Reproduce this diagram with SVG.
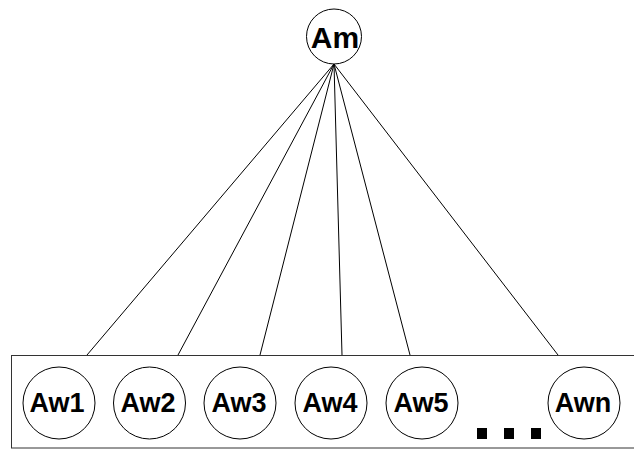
<svg xmlns="http://www.w3.org/2000/svg" width="634" height="450" viewBox="0 0 634 450">
<style>
.n{fill:#fff;stroke:#000;stroke-width:1}
.t{font-family:"Liberation Sans",Arial,sans-serif;font-weight:bold;text-anchor:middle;fill:#000}
.e{stroke:#000;stroke-width:1;fill:none}
</style>
<rect x="11.5" y="355.5" width="640" height="92.5" fill="#fff" stroke="#333" stroke-width="1"/>
<g id="connectors">
<line class="e" x1="334" y1="64" x2="87" y2="355"/>
<line class="e" x1="334" y1="64" x2="178" y2="355"/>
<line class="e" x1="334" y1="64" x2="260" y2="355"/>
<line class="e" x1="334" y1="64" x2="342" y2="355"/>
<line class="e" x1="334" y1="64" x2="410" y2="355"/>
<line class="e" x1="334" y1="64" x2="558" y2="355"/>
</g>
<g id="Am"><circle class="n" cx="334" cy="36.5" r="27.5"/><text class="t" x="335" y="48" font-size="30">Am</text></g>
<g id="Aw1"><circle class="n" cx="59" cy="403" r="36"/><text class="t" x="57" y="412" font-size="27">Aw1</text></g>
<g id="Aw2"><circle class="n" cx="149.5" cy="403" r="36"/><text class="t" x="148" y="412" font-size="27">Aw2</text></g>
<g id="Aw3"><circle class="n" cx="240" cy="403" r="36"/><text class="t" x="239" y="412" font-size="27">Aw3</text></g>
<g id="Aw4"><circle class="n" cx="331" cy="403" r="36"/><text class="t" x="330" y="412" font-size="27">Aw4</text></g>
<g id="Aw5"><circle class="n" cx="422" cy="403" r="36"/><text class="t" x="421" y="412" font-size="27">Aw5</text></g>
<g id="Awn"><circle class="n" cx="584" cy="403" r="36"/><text class="t" x="583" y="412" font-size="27">Awn</text></g>
<g id="dots" fill="#000">
<rect x="477" y="428" width="10" height="11"/>
<rect x="504" y="428" width="10" height="11"/>
<rect x="531" y="428" width="10" height="11"/>
</g>
</svg>
